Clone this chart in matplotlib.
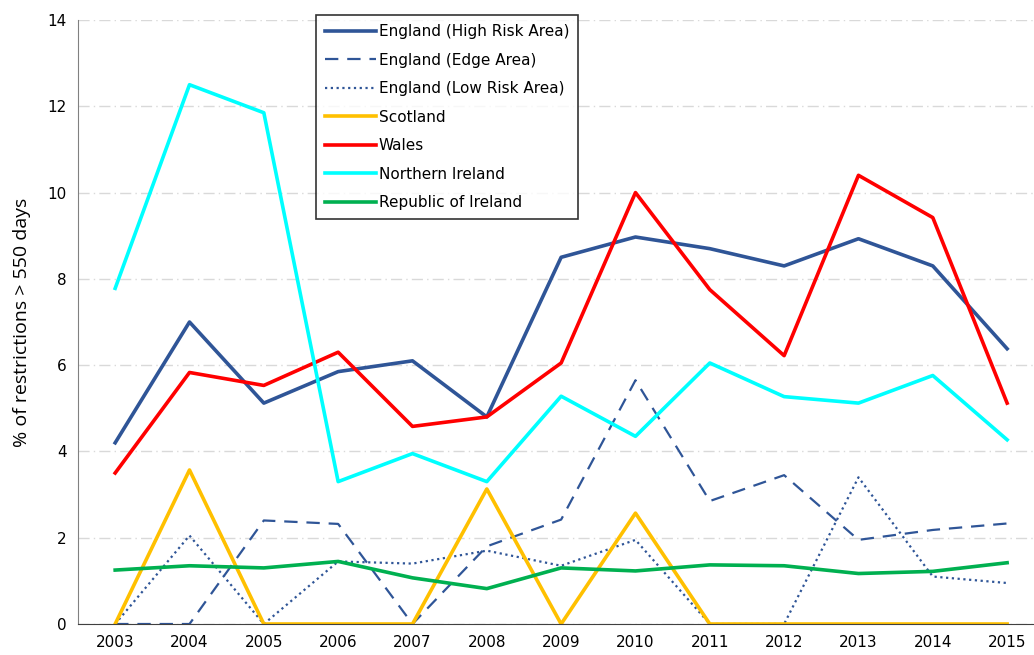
import matplotlib
matplotlib.use("Agg")
import matplotlib.pyplot as plt
import numpy as np

years = np.arange(2003, 2016)

eng_high = [4.2, 7.0, 5.12, 5.85, 6.1, 4.8, 8.5, 8.97, 8.7, 8.3, 8.93, 8.3, 6.38]
eng_edge = [0, 0, 2.4, 2.32, 0, 1.8, 2.42, 5.65, 2.85, 3.45, 1.95, 2.18, 2.33]
eng_low = [0, 2.05, 0, 1.45, 1.4, 1.7, 1.35, 1.95, 0, 0, 3.4, 1.1, 0.95]
scotland = [0, 3.57, 0, 0, 0, 3.13, 0, 2.57, 0, 0, 0, 0, 0]
wales = [3.5, 5.83, 5.53, 6.3, 4.58, 4.8, 6.05, 10.0, 7.75, 6.22, 10.4, 9.42, 5.12]
n_ireland = [7.78, 12.5, 11.85, 3.3, 3.95, 3.3, 5.28, 4.35, 6.05, 5.27, 5.12, 5.76, 4.27]
r_ireland = [1.25, 1.35, 1.3, 1.45, 1.07, 0.82, 1.3, 1.23, 1.37, 1.35, 1.17, 1.22, 1.42]

blue = '#2F5597'

fig = plt.figure(figsize=(10.34, 6.55), dpi=100)
ax = fig.add_axes([78/1034, 31/655, 956/1034, 604/655])

ax.plot(years, eng_high, color=blue, lw=2.6, label='England (High Risk Area)')
ax.plot(years, eng_edge, color=blue, lw=1.6, ls=(0, (6, 4)), label='England (Edge Area)')
ax.plot(years, eng_low, color=blue, lw=1.6, ls=(0, (1, 1.6)), label='England (Low Risk Area)')
ax.plot(years, scotland, color='#FFC000', lw=2.6, label='Scotland')
ax.plot(years, wales, color='#FF0000', lw=2.6, label='Wales')
ax.plot(years, n_ireland, color='#00FFFF', lw=2.6, label='Northern Ireland')
ax.plot(years, r_ireland, color='#00B050', lw=2.6, label='Republic of Ireland')

ax.set_xlim(2002.5, 2002.5 + 956/74.33)
ax.set_ylim(0, 14)
ax.set_xticks(years)
ax.set_yticks(np.arange(0, 15, 2))
ax.tick_params(axis='both', length=0, labelsize=11, pad=8)
ax.grid(axis='y', color='#D9D9D9', ls=(0, (8, 3, 1, 3)), lw=1)
ax.set_axisbelow(True)
for s in ['top', 'right']:
    ax.spines[s].set_visible(False)
ax.spines['left'].set_color('#808080')
ax.spines['bottom'].set_color('#404040')
ax.set_ylabel('% of restrictions > 550 days', fontsize=14, family='Open Sans', labelpad=12)

leg = ax.legend(loc='upper left', bbox_to_anchor=(238/956, 1.008), fontsize=11,
                frameon=True, fancybox=False, edgecolor='black', handlelength=3.3,
                handletextpad=0.2, labelspacing=0.88, borderpad=0.6, borderaxespad=0)
leg.get_frame().set_linewidth(1.2)

fig.savefig('out.png', dpi=100)
